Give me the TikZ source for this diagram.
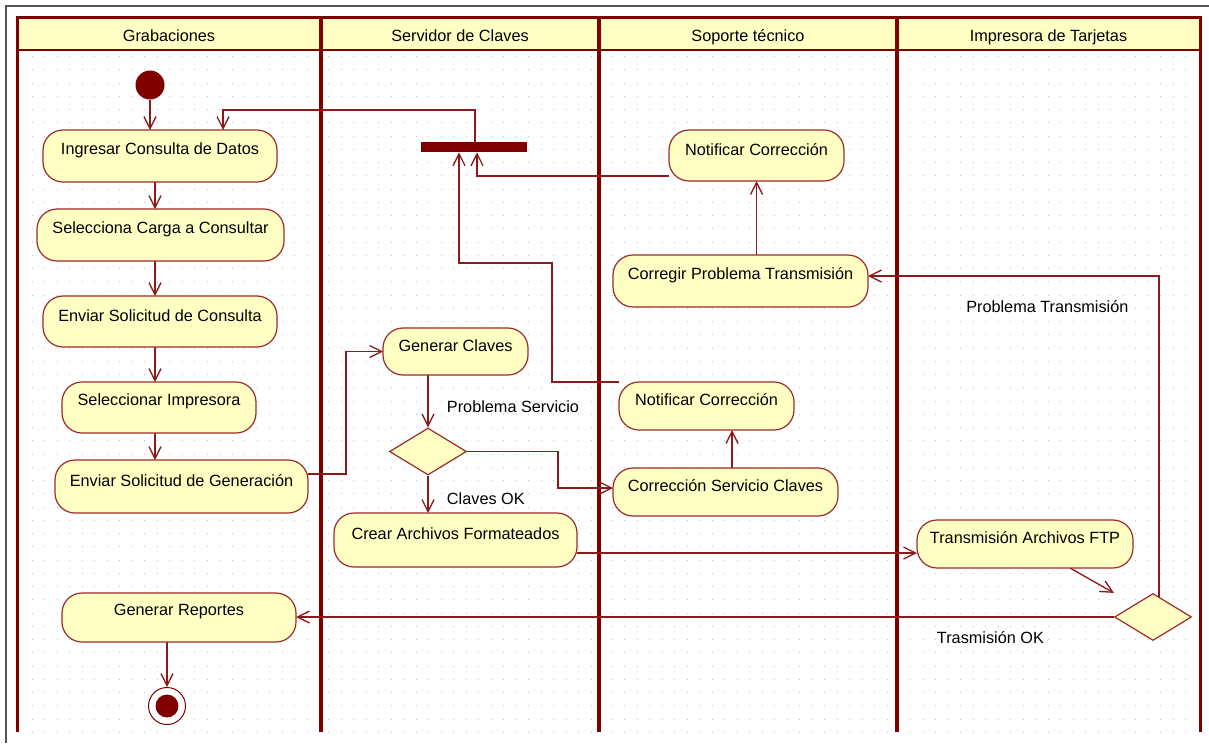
\documentclass[tikz,border=0pt]{standalone}
\usepackage{fontspec}
\setmainfont{Liberation Sans}
\usetikzlibrary{arrows.meta,shapes.geometric,fit}

\definecolor{lanec}{HTML}{800000}
\definecolor{actfill}{HTML}{FFFFC4}
\definecolor{actline}{HTML}{9C2A2A}
\definecolor{wirec}{HTML}{8B1A1A}
\definecolor{dotc}{HTML}{C4C4C4}
\definecolor{framec}{HTML}{555555}

\pgfdeclarelayer{grid}
\pgfdeclarelayer{wires}
\pgfsetlayers{grid,wires,main}

% activity box given by its corners; the baseline sits a fixed distance below the top edge
\newcommand\actnode[6]{%
  \pgfmathsetmacro\actdepth{0.75*(#5-#3)-27.75}%
  \node[act, text depth=\actdepth pt, fit={(#2,#3) (#4,#5)}] (#1) {#6};}

\begin{document}
\begin{tikzpicture}[x=0.75pt, y=-0.75pt,
  font=\fontsize{12.2}{15}\selectfont,
  act/.style={rectangle, rounded corners=15pt, draw=actline, fill=actfill,
    line width=0.9pt, inner sep=0pt, outer sep=0pt, text height=9pt},
  choice/.style={diamond, draw=actline, fill=actfill, line width=0.9pt,
    inner sep=0pt, minimum width=57.75pt, minimum height=35.25pt},
  wire/.style={draw=wirec, line width=1pt, -{Straight Barb[length=9pt,width=9pt]}},
  note/.style={anchor=base west, inner sep=0pt},
  lanehead/.style={anchor=base, inner sep=0pt},
  dotrow/.style={draw=dotc, line width=0.8pt, dash pattern=on 0.8pt off 8.575pt},
]
\useasboundingbox (0,0) rectangle (1209,743);

\begin{pgfonlayer}{grid}
  % page frame
  \draw[framec, line width=1pt] (6,743) -- (6,6) -- (1209,6);
  % dotted background of the lanes
  \foreach \r in {0,...,51} {
    \pgfmathsetmacro\yy{56.7+13.25*\r}
    \draw[dotrow] (31.7,\yy) -- (318,\yy);
    \draw[dotrow] (328.3,\yy) -- (596,\yy);
    \draw[dotrow] (611.7,\yy) -- (894,\yy);
    \draw[dotrow] (910,\yy) -- (1197,\yy);
  }
  % swimlanes
  \fill[actfill] (17,17) rectangle (1200,50);
  \draw[lanec, line width=1.9pt] (17,50) -- (1200,50);
  \draw[lanec, line width=2.25pt] (17,732) -- (17,17) -- (1200,17) -- (1200,732);
  \foreach \x in {321,599,897} \draw[lanec, line width=3pt] (\x,17) -- (\x,732);
\end{pgfonlayer}

% lane titles
\node[lanehead] (h1) at (169,41.5) {Grabaciones};
\node[lanehead] (h2) at (460,41.5) {Servidor de Claves};
\node[lanehead] (h3) at (748,41.5) {Soporte técnico};
\node[lanehead] (h4) at (1048.5,41.5) {Impresora de Tarjetas};

% Grabaciones
\node[circle, fill=lanec, inner sep=0pt, minimum size=21.75pt] (init) at (150,85) {};
\actnode{n1}{43}{130}{277}{182}{Ingresar Consulta de Datos}
\actnode{n2}{37}{209}{284}{261}{Selecciona Carga a Consultar}
\actnode{n3}{43}{296}{277}{347}{Enviar Solicitud de Consulta}
\actnode{n4}{62}{382}{256}{433}{Seleccionar Impresora}
\actnode{n5}{55}{460}{308}{513}{Enviar Solicitud de Generación}
\actnode{gr}{62}{593}{296}{642}{Generar Reportes}
\node[circle, draw=lanec, fill=white, line width=0.75pt, inner sep=0pt, minimum size=27.75pt] (fin) at (167,706) {};
\fill[lanec] (fin.center) circle[radius=8.6pt];

% Servidor de Claves
\node[fill=lanec, inner sep=0pt, fit={(421,142) (527,152)}] (bar) {};
\actnode{gc}{383}{328}{528}{375}{Generar Claves}
\node[choice] (d1) at (428,451.5) {};
\actnode{ca}{334}{513}{577}{567}{Crear Archivos Formateados}

% Soporte tecnico
\actnode{nu}{669}{130}{844}{181}{Notificar Corrección}
\actnode{cp}{613}{255}{868}{307}{Corregir Problema Transmisión}
\actnode{nl}{619}{382}{794}{430}{Notificar Corrección}
\actnode{cs}{613}{468}{838}{516}{Corrección Servicio Claves}

% Impresora de Tarjetas
\actnode{tx}{917}{520}{1133}{568}{Transmisión Archivos FTP}
\node[choice] (d2) at (1153,617) {};

% guard labels
\node[note] (lps) at (446.7,412.3) {Problema Servicio};
\node[note] (lok) at (446.7,504.3) {Claves OK};
\node[note] (lpt) at (966,312.3) {Problema Transmisión};
\node[note] (ltok) at (936.7,643.3) {Trasmisión OK};

% transitions
\begin{pgfonlayer}{wires}
  \coordinate (ga) at (155,0);
  \draw[wire] (init) -- (init |- n1.north);
  \draw[wire] (n1 -| ga) -- (n2.north -| ga);
  \draw[wire] (n2 -| ga) -- (n3.north -| ga);
  \draw[wire] (n3 -| ga) -- (n4.north -| ga);
  \draw[wire] (n4 -| ga) -- (n5.north -| ga);

  \coordinate (lp) at (475,110);
  \coordinate (lq) at (223,110);
  \draw[wire] (bar.north -| lp) -- (lp) -- (lq) -- (lq |- n1.north);

  \coordinate (ju) at (477,176);
  \draw[wire] (nu.west |- ju) -- (ju) -- (ju |- bar.south);

  \coordinate (k1) at (552,263);
  \coordinate (k2) at (459,263);
  \draw[wire] (nl.north west) -| (k1) -- (k2) -- (k2 |- bar.south);

  \coordinate (k3) at (346,474);
  \draw[wire] (n5.east |- k3) -- (k3) |- (gc.west);

  \draw[wire] (gc.south -| d1) -- (d1.north);
  \draw[wire] (d1.south) -- (d1.south |- ca.north);

  \coordinate (k4) at (558,488);
  \draw[wire] (d1.east) -| (k4) -- (k4 -| cs.west);

  \coordinate (k5) at (732,0);
  \draw[wire] (cs.north -| k5) -- (nl.south -| k5);
  \draw[wire] (cp.north -| nu.south) -- (nu.south);

  \coordinate (k6) at (577,553);
  \draw[wire] (ca.east |- k6) -- (tx.west |- k6);

  \coordinate (k7) at (1070,0);
  \draw[wire] (tx.south -| k7) -- (d2.west |- d2.north);

  \coordinate (k8) at (1159,276);
  \draw[wire] (d2 -| k8) -- (k8) -- (k8 -| cp.east);

  \draw[wire] (d2.west) -- (d2.west -| gr.east);
  \draw[wire] (gr.south -| fin) -- (fin.north);
\end{pgfonlayer}
\end{tikzpicture}
\end{document}
